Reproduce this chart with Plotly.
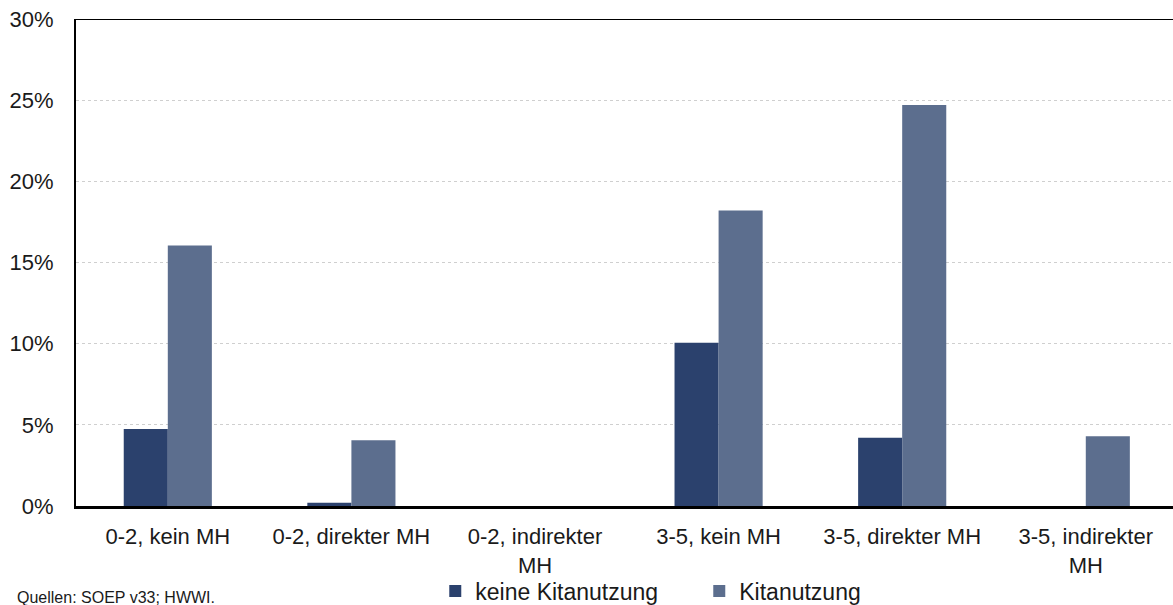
import plotly.graph_objects as go

categories = ["0-2, kein MH", "0-2, direkter MH", "0-2, indirekter<br>MH",
              "3-5, kein MH", "3-5, direkter MH", "3-5, indirekter<br>MH"]
keine_kita = [4.75, 0.2, 0.0, 10.05, 4.2, 0.0]
kita = [16.05, 4.05, 0.0, 18.2, 24.7, 4.3]

font_fam = "Liberation Sans"

fig = go.Figure(data=[
    go.Bar(name="keine Kitanutzung", x=categories, y=keine_kita,
           marker=dict(color="#2b416d", line=dict(width=0))),
    go.Bar(name="Kitanutzung", x=categories, y=kita,
           marker=dict(color="#5c6e8e", line=dict(width=0)))
])

fig.update_layout(
    width=1173, height=605,
    margin=dict(l=76, r=0, t=19, b=99),
    barmode="group", bargap=0.52, bargroupgap=0,
    plot_bgcolor="white", paper_bgcolor="white",
    font=dict(family=font_fam, size=22, color="#1a1a1a"),
    legend=dict(orientation="h", x=0.3275, xanchor="left",
                yref="container", y=0.023, yanchor="middle",
                font=dict(size=23), itemwidth=30, entrywidth=219,
                bgcolor="rgba(0,0,0,0)", traceorder="normal"),
    showlegend=True,
)
# Plotfläche läuft im Original etwas über den rechten Rand hinaus
fig.update_xaxes(range=[-0.5, 5.475], showline=True, linecolor="black", linewidth=3,
                 ticks="", automargin=False, ticklabelstandoff=9, tickfont=dict(size=22))
fig.update_yaxes(range=[0, 30], dtick=5, ticksuffix="%", showgrid=True,
                 gridcolor="#cfcfcf", griddash="dot", gridwidth=1,
                 showline=True, linecolor="black", linewidth=2,
                 zeroline=False, automargin=False, ticklabelstandoff=16,
                 tickfont=dict(size=22))

# Rahmenlinie oben
fig.add_shape(type="line", xref="paper", yref="y", x0=0, x1=1, y0=30, y1=30,
              line=dict(color="black", width=2))

fig.add_annotation(text="Quellen: SOEP v33; HWWI.", xref="paper", yref="paper",
                   x=-0.0556, y=-0.187, xanchor="left", yanchor="middle",
                   showarrow=False, font=dict(size=16))

# body-margin weg, damit die Seite genau 1173x605 ist
fig.write_html("out.html", config={"displayModeBar": False},
               post_script="document.body.style.margin='0';")
